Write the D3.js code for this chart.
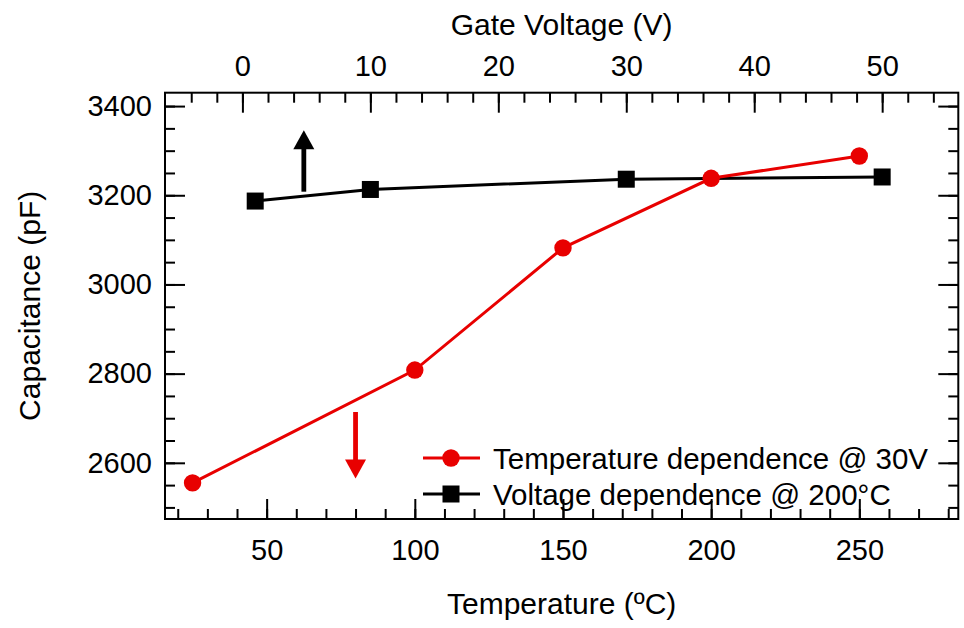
<!DOCTYPE html>
<html>
<head>
<meta charset="utf-8">
<script src="https://cdn.jsdelivr.net/npm/d3@7"></script>
<style>
  body { margin: 0; background: #fff; }
  svg { display: block; font-family: "Liberation Sans", Arial, sans-serif; }
</style>
</head>
<body>
<svg id="chart" width="964" height="628"></svg>
<script>
// ---- data ----
const tempC = [25, 100, 150, 200, 250];
const capTemp = [2555, 2808, 3082, 3238, 3288];
const gateV = [1, 10, 30, 50];
const capVolt = [3187, 3213, 3236, 3241];
const leftTicks = [2600, 2800, 3000, 3200, 3400];
const bottomTicks = [50, 100, 150, 200, 250];
const topTicks = [0, 10, 20, 30, 40, 50];
const legendLabels = ["Temperature dependence @ 30V", "Voltage dependence @ 200°C"];
// arrows: [axis position, from value, to value]
const blackArrow = [4.8, 3208, 3346];   // gate voltage axis
const redArrow = [80, 2714, 2565];      // temperature axis

const red = "#e80000", black = "#000";
const svg = d3.select("#chart");
const L = 165, R = 958.3, T = 92.7, B = 519;

const x = d3.scaleLinear([15.7, 283.4], [L, R]);
const xTop = d3.scaleLinear([-6.05, 55.95], [L, R]);
const y = d3.scaleLinear([2474, 3430], [B, T]);

const fsTick = 29, fsTitle = 30, fsLeg = 29.5;
function styleAxis(g) {
  g.select(".domain").remove();
  g.selectAll(".tick line").attr("stroke", black).attr("stroke-width", 2);
  g.selectAll(".tick text").attr("font-size", fsTick).attr("fill", black)
    .attr("font-family", "Liberation Sans, Arial, sans-serif");
}
const inside = (sc, step) => d3.range(Math.ceil(sc.domain()[0] / step) * step, sc.domain()[1], step)
  .filter(v => Math.abs(sc(v) - sc.range()[0]) > 3 && Math.abs(sc(v) - sc.range()[1]) > 3);

// minor ticks
svg.append("g").attr("transform", `translate(0,${B})`)
  .call(d3.axisBottom(x).tickValues(inside(x, 10)).tickSize(-10).tickFormat(""))
  .call(styleAxis);
svg.append("g").attr("transform", `translate(0,${T})`)
  .call(d3.axisTop(xTop).tickValues(inside(xTop, 2)).tickSize(-10).tickFormat(""))
  .call(styleAxis);
svg.append("g").attr("transform", `translate(${L},0)`)
  .call(d3.axisLeft(y).tickValues(inside(y, 50)).tickSize(-10).tickFormat(""))
  .call(styleAxis);
svg.append("g").attr("transform", `translate(${R},0)`)
  .call(d3.axisRight(y).tickValues(inside(y, 50)).tickSize(-10).tickFormat(""))
  .call(styleAxis);

// major ticks
svg.append("g").attr("transform", `translate(0,${B})`)
  .call(d3.axisBottom(x).tickValues(bottomTicks).tickSize(-20).tickPadding(20).tickFormat(d3.format("d")))
  .call(styleAxis);
svg.append("g").attr("transform", `translate(0,${T})`)
  .call(d3.axisTop(xTop).tickValues(topTicks).tickSize(-20).tickPadding(17).tickFormat(d3.format("d")))
  .call(styleAxis);
svg.append("g").attr("transform", `translate(${L},0)`)
  .call(d3.axisLeft(y).tickValues(leftTicks).tickSize(-20).tickPadding(13).tickFormat(d3.format("d")))
  .call(styleAxis);
svg.append("g").attr("transform", `translate(${R},0)`)
  .call(d3.axisRight(y).tickValues(leftTicks).tickSize(-20).tickFormat(""))
  .call(styleAxis);

// frame
svg.append("rect").attr("x", L).attr("y", T).attr("width", R - L).attr("height", B - T)
  .attr("fill", "none").attr("stroke", black).attr("stroke-width", 2);

// axis titles
svg.append("text").attr("x", (L + R) / 2).attr("y", 35).attr("text-anchor", "middle")
  .attr("font-size", fsTitle).text("Gate Voltage (V)");
svg.append("text").attr("x", (L + R) / 2).attr("y", 614).attr("text-anchor", "middle")
  .attr("font-size", fsTitle).text("Temperature (ºC)");
svg.append("text").attr("transform", `translate(40,${(T + B) / 2}) rotate(-90)`)
  .attr("text-anchor", "middle").attr("font-size", fsTitle).text("Capacitance (pF)");

// black series (voltage)
const voltPts = gateV.map((v, i) => [xTop(v), y(capVolt[i])]);
svg.append("path").attr("d", d3.line()(voltPts)).attr("fill", "none")
  .attr("stroke", black).attr("stroke-width", 3);
svg.selectAll(".sq").data(voltPts).join("rect")
  .attr("x", d => d[0] - 8.5).attr("y", d => d[1] - 8.5).attr("width", 17).attr("height", 17)
  .attr("fill", black);

// red series (temperature)
const tempPts = tempC.map((t, i) => [x(t), y(capTemp[i])]);
svg.append("path").attr("d", d3.line()(tempPts)).attr("fill", "none")
  .attr("stroke", red).attr("stroke-width", 3);
svg.selectAll(".ci").data(tempPts).join("circle")
  .attr("cx", d => d[0]).attr("cy", d => d[1]).attr("r", 8.7).attr("fill", red);

// arrows
function arrow(px, y0, y1, color) {
  const dir = Math.sign(y1 - y0);
  const headLen = 19, headW = 10.5;
  const base = y1 - dir * headLen;
  svg.append("line").attr("x1", px).attr("x2", px).attr("y1", y0).attr("y2", base + dir)
    .attr("stroke", color).attr("stroke-width", 4.8);
  svg.append("path").attr("d", `M${px - headW},${base}L${px + headW},${base}L${px},${y1}Z`)
    .attr("fill", color);
}
arrow(xTop(blackArrow[0]), y(blackArrow[1]), y(blackArrow[2]), black);
arrow(x(redArrow[0]), y(redArrow[1]), y(redArrow[2]), red);

// legend
const legY = [458, 494];
const legColors = [red, black];
legendLabels.forEach((lab, i) => {
  const g = svg.append("g");
  g.append("line").attr("x1", 423).attr("x2", 480).attr("y1", legY[i]).attr("y2", legY[i])
    .attr("stroke", legColors[i]).attr("stroke-width", 3);
  if (i === 0) g.append("circle").attr("cx", 451).attr("cy", legY[i]).attr("r", 8.7).attr("fill", red);
  else g.append("rect").attr("x", 451 - 8.5).attr("y", legY[i] - 8.5).attr("width", 17).attr("height", 17).attr("fill", black);
  g.append("text").attr("x", 493).attr("y", legY[i]).attr("dy", "0.36em")
    .attr("font-size", fsLeg).text(lab);
});
</script>
</body>
</html>
